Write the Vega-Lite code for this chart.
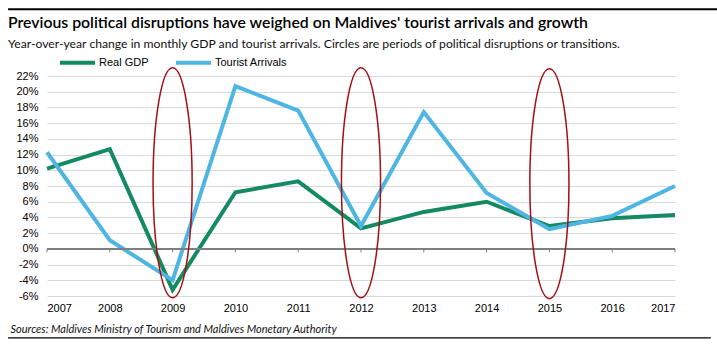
{
  "$schema": "https://vega.github.io/schema/vega-lite/v6.json",
  "width": 628,
  "height": 220,
  "autosize": {"type": "none"},
  "padding": {"left": 47, "top": 76, "right": 42, "bottom": 51},
  "background": "white",
  "config": {
    "view": {"stroke": null},
    "font": "Liberation Sans",
    "axisY": {
      "grid": true, "gridColor": "#d9d9d9", "gridWidth": 1,
      "domain": false, "ticks": false, "labelOverlap": false,
      "labelPadding": 9, "labelFontSize": 11, "labelColor": "#000000", "labelFont": "Liberation Sans"
    },
    "axisX": {
      "grid": false, "domain": false, "ticks": false, "labelOverlap": false,
      "labelPadding": 6, "labelFontSize": 11, "labelColor": "#000000", "labelFont": "Liberation Sans",
      "titleFont": "Lato", "titleFontStyle": "italic", "titleFontWeight": "normal",
      "titleFontSize": 11, "titleColor": "#111111",
      "titleAnchor": "start", "titleAlign": "left", "titleX": -37, "titleY": 27
    }
  },
  "title": {
    "text": "Previous political disruptions have weighed on Maldives' tourist arrivals and growth",
    "subtitle": "Year-over-year change in monthly GDP and tourist arrivals. Circles are periods of political disruptions or transitions.",
    "anchor": "start",
    "frame": "group",
    "dx": -39,
    "offset": -43,
    "font": "Lato",
    "fontSize": 15.8,
    "fontWeight": 600,
    "color": "#000000",
    "subtitleFont": "Lato",
    "subtitleFontSize": 12.2,
    "subtitleColor": "#111111",
    "subtitlePadding": 6
  },
  "datasets": {
    "series": [
      {"year": 2007, "series": "Real GDP", "value": 10.2},
      {"year": 2008, "series": "Real GDP", "value": 12.7},
      {"year": 2009, "series": "Real GDP", "value": -5.2},
      {"year": 2010, "series": "Real GDP", "value": 7.2},
      {"year": 2011, "series": "Real GDP", "value": 8.6},
      {"year": 2012, "series": "Real GDP", "value": 2.6},
      {"year": 2013, "series": "Real GDP", "value": 4.7},
      {"year": 2014, "series": "Real GDP", "value": 6.0},
      {"year": 2015, "series": "Real GDP", "value": 2.9},
      {"year": 2016, "series": "Real GDP", "value": 3.9},
      {"year": 2017, "series": "Real GDP", "value": 4.3},
      {"year": 2007, "series": "Tourist Arrivals", "value": 12.3},
      {"year": 2008, "series": "Tourist Arrivals", "value": 1.1},
      {"year": 2009, "series": "Tourist Arrivals", "value": -4.0},
      {"year": 2010, "series": "Tourist Arrivals", "value": 20.7},
      {"year": 2011, "series": "Tourist Arrivals", "value": 17.6},
      {"year": 2012, "series": "Tourist Arrivals", "value": 2.9},
      {"year": 2013, "series": "Tourist Arrivals", "value": 17.4},
      {"year": 2014, "series": "Tourist Arrivals", "value": 7.1},
      {"year": 2015, "series": "Tourist Arrivals", "value": 2.5},
      {"year": 2016, "series": "Tourist Arrivals", "value": 4.2},
      {"year": 2017, "series": "Tourist Arrivals", "value": 8.0}
    ],
    "years": [
      {"year": 2007}, {"year": 2008}, {"year": 2009}, {"year": 2010}, {"year": 2011},
      {"year": 2012}, {"year": 2013}, {"year": 2014}, {"year": 2015}, {"year": 2016}, {"year": 2017}
    ],
    "events": [
      {"year": 2009, "center": 8.4},
      {"year": 2012, "center": 8.4},
      {"year": 2015, "center": 8.3}
    ]
  },
  "layer": [
    {
      "data": {"name": "series"},
      "mark": {"type": "line", "strokeWidth": 4, "strokeJoin": "miter"},
      "encoding": {
        "x": {
          "field": "year", "type": "quantitative",
          "scale": {"domain": [2007, 2017], "nice": false, "zero": false},
          "axis": {"values": [2007, 2008, 2009, 2010, 2011, 2012, 2013, 2014, 2015, 2016, 2017], "format": "d", "title": "Sources: Maldives Ministry of Tourism and Maldives Monetary Authority"}
        },
        "y": {
          "field": "value", "type": "quantitative",
          "scale": {"domain": [-6, 22], "nice": false, "zero": false},
          "axis": {"values": [-6, -4, -2, 0, 2, 4, 6, 8, 10, 12, 14, 16, 18, 20, 22], "labelExpr": "datum.value + '%'", "title": null}
        },
        "color": {
          "field": "series", "type": "nominal",
          "scale": {"domain": ["Real GDP", "Tourist Arrivals"], "range": ["#138a60", "#4fb5e2"]},
          "legend": {
            "title": null,
            "orient": "none",
            "legendX": 11,
            "legendY": -33,
            "direction": "horizontal",
            "symbolType": "stroke",
            "symbolStrokeWidth": 4,
            "symbolSize": 1225,
            "labelFont": "Liberation Sans",
            "labelFontSize": 11,
            "labelColor": "#000000",
            "labelOffset": 2,
            "columnPadding": 19
          }
        }
      }
    },
    {
      "data": {"name": "years"},
      "mark": {"type": "rule", "color": "#7f7f7f", "strokeWidth": 1},
      "encoding": {
        "x": {"field": "year", "type": "quantitative",
          "axis": {"values": [2007, 2008, 2009, 2010, 2011, 2012, 2013, 2014, 2015, 2016, 2017], "format": "d", "title": "Sources: Maldives Ministry of Tourism and Maldives Monetary Authority"}},
        "y": {"datum": 0, "type": "quantitative",
          "axis": {"values": [-6, -4, -2, 0, 2, 4, 6, 8, 10, 12, 14, 16, 18, 20, 22], "labelExpr": "datum.value + '%'", "title": null}},
        "y2": {"datum": -0.45}
      }
    },
    {
      "data": {"name": "years"},
      "mark": {"type": "rule", "color": "#7f7f7f", "strokeWidth": 1},
      "encoding": {
        "y": {"datum": 0, "type": "quantitative",
          "axis": {"values": [-6, -4, -2, 0, 2, 4, 6, 8, 10, 12, 14, 16, 18, 20, 22], "labelExpr": "datum.value + '%'", "title": null}}
      }
    },
    {
      "data": {"values": [{"edge": "top"}]},
      "mark": {"type": "rule", "color": "#000000", "strokeWidth": 2, "clip": false},
      "encoding": {
        "x": {"datum": 2006.38, "type": "quantitative",
          "axis": {"values": [2007, 2008, 2009, 2010, 2011, 2012, 2013, 2014, 2015, 2016, 2017], "format": "d", "title": "Sources: Maldives Ministry of Tourism and Maldives Monetary Authority"}},
        "x2": {"datum": 2017.67},
        "y": {"datum": 30.5, "type": "quantitative",
          "axis": {"values": [-6, -4, -2, 0, 2, 4, 6, 8, 10, 12, 14, 16, 18, 20, 22], "labelExpr": "datum.value + '%'", "title": null}}
      }
    },
    {
      "data": {"values": [{"edge": "bottom"}]},
      "mark": {"type": "rule", "color": "#000000", "strokeWidth": 1.2, "clip": false},
      "encoding": {
        "x": {"datum": 2006.38, "type": "quantitative",
          "axis": {"values": [2007, 2008, 2009, 2010, 2011, 2012, 2013, 2014, 2015, 2016, 2017], "format": "d", "title": "Sources: Maldives Ministry of Tourism and Maldives Monetary Authority"}},
        "x2": {"datum": 2017.57},
        "y": {"datum": -11.33, "type": "quantitative",
          "axis": {"values": [-6, -4, -2, 0, 2, 4, 6, 8, 10, 12, 14, 16, 18, 20, 22], "labelExpr": "datum.value + '%'", "title": null}}
      }
    },
    {
      "data": {"name": "events"},
      "mark": {
        "type": "point",
        "shape": "M -0.17 0 A 0.17 1 0 1 0 0.17 0 A 0.17 1 0 1 0 -0.17 0 Z",
        "size": 52900,
        "filled": false,
        "stroke": "#a50f15",
        "strokeWidth": 1.5,
        "opacity": 1
      },
      "encoding": {
        "x": {"field": "year", "type": "quantitative",
          "axis": {"values": [2007, 2008, 2009, 2010, 2011, 2012, 2013, 2014, 2015, 2016, 2017], "format": "d", "title": "Sources: Maldives Ministry of Tourism and Maldives Monetary Authority"}},
        "y": {"field": "center", "type": "quantitative",
          "axis": {"values": [-6, -4, -2, 0, 2, 4, 6, 8, 10, 12, 14, 16, 18, 20, 22], "labelExpr": "datum.value + '%'", "title": null}}
      }
    }
  ]
}
